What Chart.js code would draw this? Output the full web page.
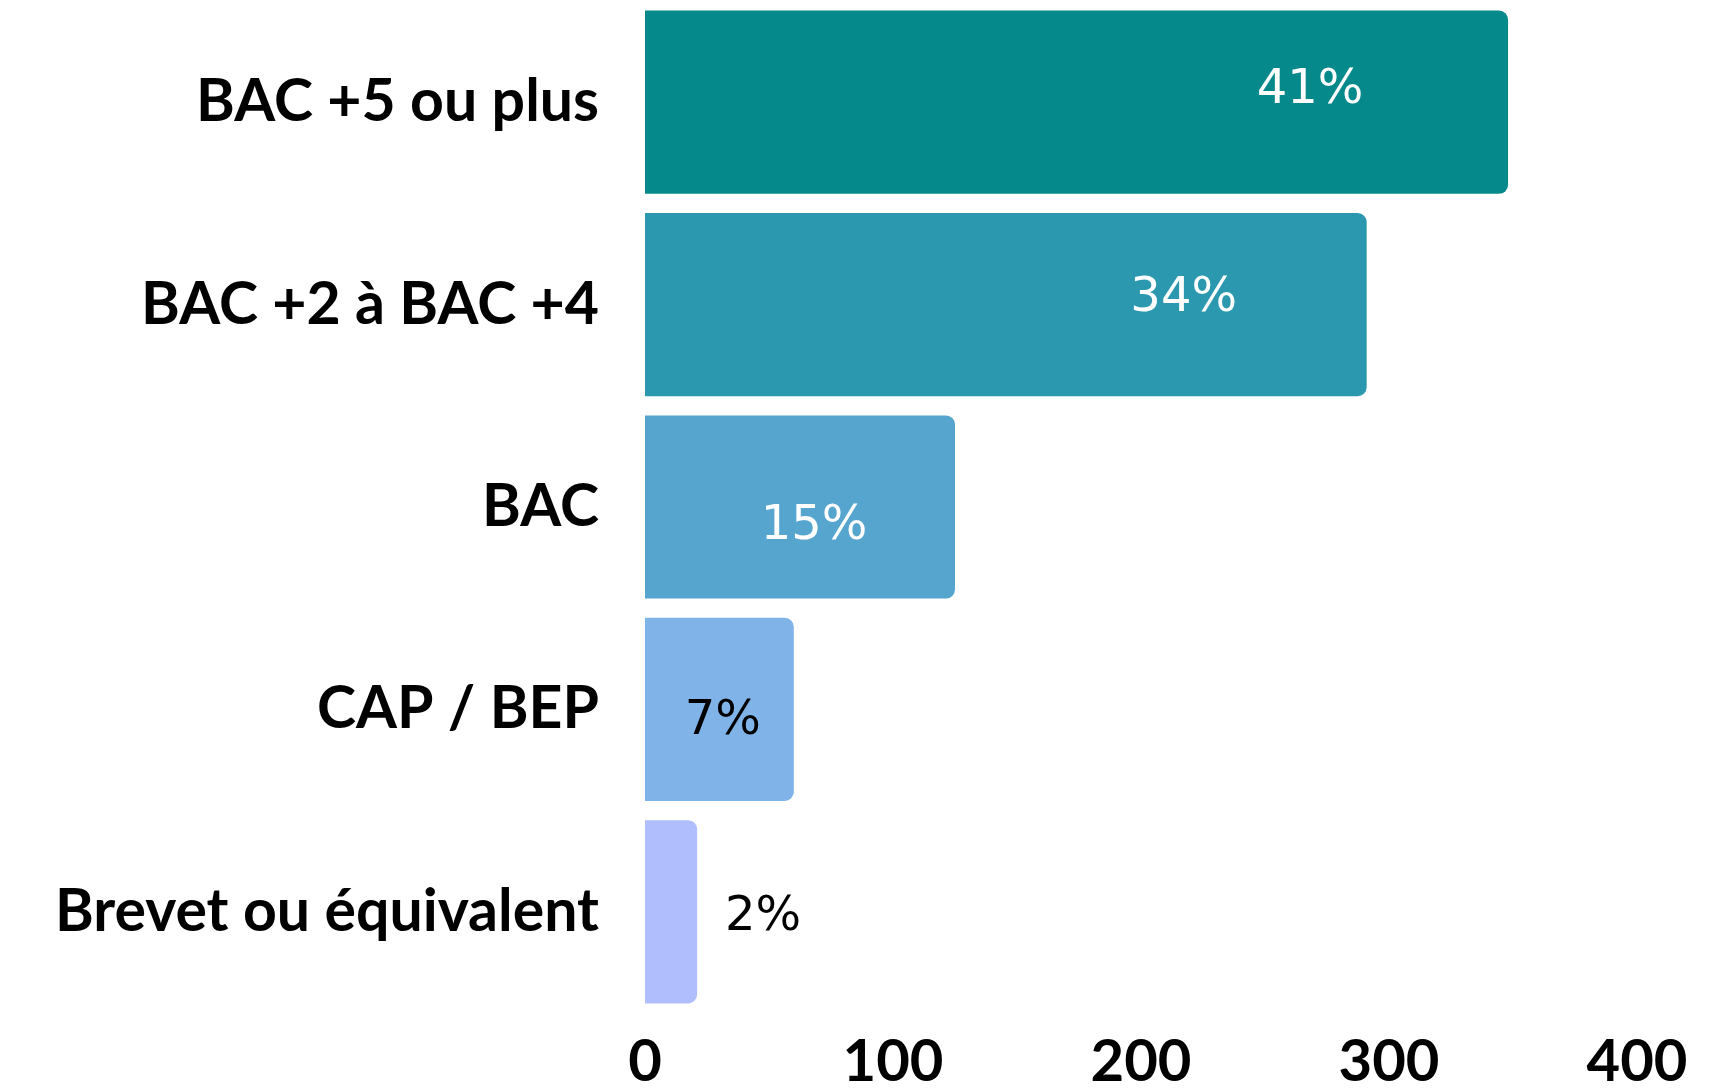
<!DOCTYPE html>
<html>
<head>
<meta charset="utf-8">
<script src="https://cdn.jsdelivr.net/npm/chart.js@4.4.0/dist/chart.umd.min.js"></script>
<style>
html,body{margin:0;padding:0;background:#fff;}
canvas{display:block;}
</style>
</head>
<body>
<canvas id="c" width="1729" height="1092"></canvas>
<script>
const categories = ["BAC +5 ou plus", "BAC +2 à BAC +4", "BAC", "CAP / BEP", "Brevet ou équivalent"];
const values = [348, 291, 125, 60, 21];
const percentLabels = ["41%", "34%", "15%", "7%", "2%"];
const xTicks = [0, 100, 200, 300, 400];

const barColors = ["#06898A", "#2B98B0", "#55A5CF", "#80B3E8", "#B0BEFD"];
const labelColors = ["#ffffff", "#ffffff", "#ffffff", "#000000", "#000000"];
// label offset (dx from bar end, dy from bar centre), style only
const labelOffsets = [[-198, -12], [-183, -6], [-141, 20], [-71, 12], [66, 6]];

const labelPlugin = {
  id: 'pctLabels',
  afterDatasetsDraw(chart) {
    const ctx = chart.ctx;
    const meta = chart.getDatasetMeta(0);
    ctx.save();
    ctx.font = '48px "DejaVu Sans"';
    ctx.textAlign = 'center';
    ctx.textBaseline = 'middle';
    meta.data.forEach((bar, i) => {
      ctx.fillStyle = labelColors[i];
      ctx.fillText(percentLabels[i], bar.x + labelOffsets[i][0], bar.y + labelOffsets[i][1]);
    });
    ctx.restore();
  }
};

new Chart(document.getElementById('c'), {
  type: 'bar',
  data: {
    labels: categories,
    datasets: [{
      data: values,
      backgroundColor: barColors,
      borderRadius: 9,
      borderSkipped: 'start',
      categoryPercentage: 1,
      barPercentage: 0.905
    }]
  },
  options: {
    indexAxis: 'y',
    responsive: false,
    animation: false,
    layout: { padding: { top: 1, right: 92, bottom: 0, left: 0 } },
    plugins: { legend: { display: false }, tooltip: { enabled: false } },
    scales: {
      x: {
        min: 0, max: 400,
        afterBuildTicks(axis) { axis.ticks = xTicks.map(v => ({ value: v })); },
        grid: { display: false, drawTicks: false },
        border: { display: false },
        ticks: {
          color: '#000',
          font: { family: 'Lato', weight: 'bold', size: 58 },
          padding: 14,
          maxRotation: 0
        },
        afterFit(axis) { axis.height = 79; axis.paddingLeft = 0; axis.paddingRight = 0; }
      },
      y: {
        grid: { display: false, drawTicks: false },
        border: { display: false },
        ticks: {
          color: '#000',
          font: { family: 'Lato', weight: 'bold', size: 59 },
          padding: 46
        },
        afterFit(axis) { axis.width = 645; axis.paddingTop = 0; axis.paddingBottom = 0; }
      }
    }
  },
  plugins: [labelPlugin]
});
</script>
</body>
</html>
